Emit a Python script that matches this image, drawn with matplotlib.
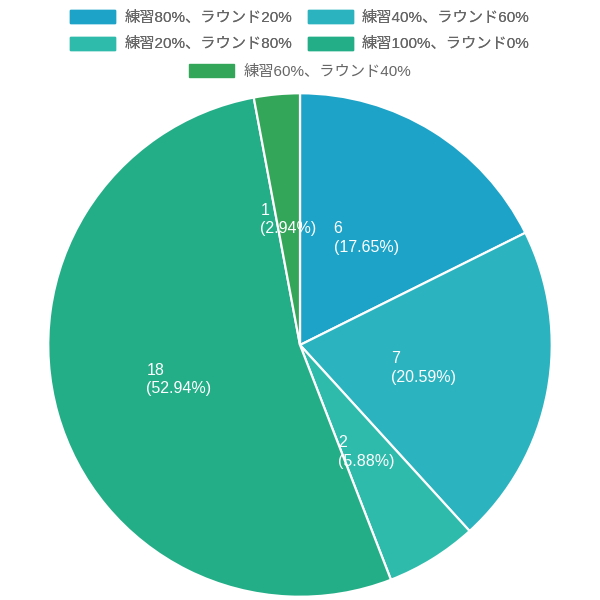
import matplotlib.pyplot as plt
from matplotlib.patches import Patch

plt.rcParams['font.family'] = ['Liberation Sans', 'Noto Sans CJK JP', 'DejaVu Sans']

labels = ["練習80%、ラウンド20%", "練習40%、ラウンド60%", "練習20%、ラウンド80%",
          "練習100%、ラウンド0%", "練習60%、ラウンド40%"]
counts = [6, 7, 2, 18, 1]
colors = ["#1da3c7", "#2bb3c0", "#2ebbab", "#23ae87", "#34a65a"]

fig = plt.figure(figsize=(6, 6), dpi=100)
ax = fig.add_axes([47 / 600, 2 / 600, 506 / 600, 506 / 600])

total = sum(counts)


def fmt(pct):
    n = round(pct * total / 100)
    return f"{n}\n({pct:.2f}%)"


wedges, _, autotexts = ax.pie(
    counts, colors=colors, startangle=90, counterclock=False, radius=1,
    autopct=fmt, pctdistance=0.5,
    wedgeprops=dict(edgecolor="white", linewidth=1.6),
    textprops=dict(color="white", fontsize=11.5))
for t in autotexts:
    t.set_multialignment("left")
    t.set_linespacing(1.3)
ax.set_xlim(-1.005, 1.005)
ax.set_ylim(-1.005, 1.005)
ax.set_aspect("equal")
ax.axis("off")

handles = [Patch(facecolor=c, edgecolor=c) for c in colors]
leg_kw = dict(frameon=False, fontsize=11, handlelength=2.95, handleheight=0.9,
              handletextpad=0.6, columnspacing=1.0, labelspacing=0.8,
              labelcolor="#666666", borderaxespad=0, borderpad=0)
# row-major ordering for a two-column legend
order = [0, 2, 1, 3]
leg1 = fig.legend([handles[i] for i in order], [labels[i] for i in order],
                  ncol=2, loc="upper center", bbox_to_anchor=(0.5, 1 - 10 / 600), **leg_kw)
fig.add_artist(leg1)
fig.legend(handles[4:], labels[4:], ncol=1, loc="upper center",
           bbox_to_anchor=(0.5, 1 - 64 / 600), **leg_kw)

fig.savefig("out.png", dpi=100)
